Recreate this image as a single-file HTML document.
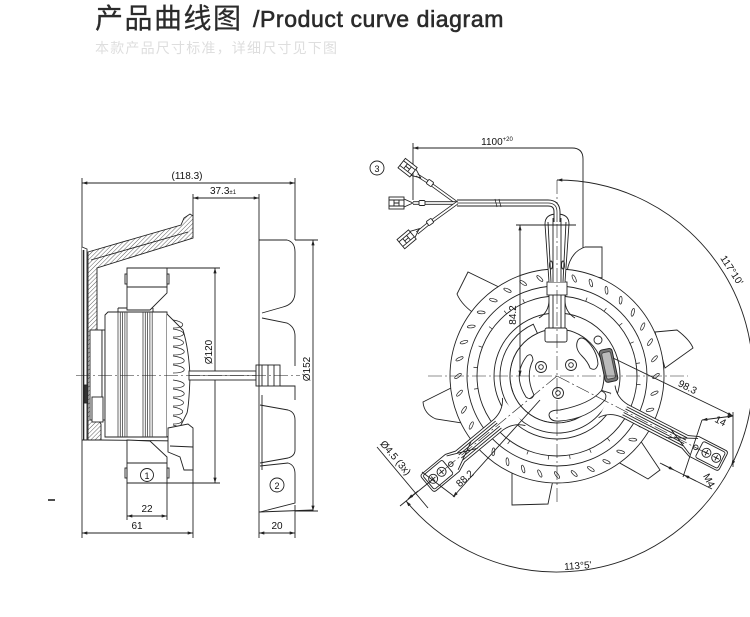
<!DOCTYPE html>
<html><head><meta charset="utf-8">
<style>
html,body{margin:0;padding:0;background:#fff;}
body{width:750px;height:617px;overflow:hidden;position:relative;}
svg{position:absolute;left:0;top:0;}
</style></head><body>
<svg width="750" height="617" viewBox="0 0 750 617" xmlns="http://www.w3.org/2000/svg">
<defs>
<marker id="a" viewBox="0 0 10 6" refX="10" refY="3" markerWidth="7" markerHeight="3.2" orient="auto-start-reverse" markerUnits="userSpaceOnUse">
<path d="M0,0 L10,3 L0,6 Z" fill="#222"/>
</marker>
<pattern id="h" width="3" height="3" patternUnits="userSpaceOnUse" patternTransform="rotate(45)">
<rect width="3" height="3" fill="#fff"/>
<line x1="0" y1="0" x2="0" y2="3" stroke="#333" stroke-width="0.8"/>
</pattern>
</defs>

<!-- Header -->
<text x="95" y="28" font-family="'Liberation Sans','Noto Sans CJK SC',sans-serif" font-size="28" font-weight="400" fill="#2b2b2b" stroke="#2b2b2b" stroke-width="0.25" letter-spacing="1.5">产品曲线图</text>
<text x="253" y="27" font-family="'Liberation Sans',sans-serif" font-size="23" fill="#2b2b2b" stroke="#2b2b2b" stroke-width="0.6" letter-spacing="0.6">/Product curve diagram</text>
<text x="95" y="53" font-family="'Liberation Sans','Noto Sans CJK SC',sans-serif" font-size="14" fill="#dedede" letter-spacing="1.2">本款产品尺寸标准，详细尺寸见下图</text>

<!-- ================= LEFT VIEW ================= -->
<g fill="none" stroke="#222" stroke-width="0.9">
  <line x1="82" y1="178" x2="82" y2="538"/>
  <line x1="295" y1="178" x2="295" y2="240"/>
  <line x1="193" y1="194" x2="193" y2="216"/>
  <line x1="259" y1="194" x2="259" y2="240"/>
  <line x1="193" y1="440" x2="193" y2="538"/>
  <line x1="127" y1="483" x2="127" y2="520"/>
  <line x1="167" y1="483" x2="167" y2="520"/>
  <line x1="259" y1="512" x2="259" y2="538"/>
  <line x1="295" y1="505" x2="295" y2="538"/>
  <line x1="167" y1="268" x2="220" y2="268"/>
  <line x1="167" y1="483" x2="220" y2="483"/>
  <line x1="295" y1="240" x2="318" y2="240"/>
  <line x1="295" y1="511" x2="318" y2="511"/>
  <line x1="82" y1="183" x2="295" y2="183" marker-start="url(#a)" marker-end="url(#a)"/>
  <line x1="193" y1="198" x2="259" y2="198" marker-start="url(#a)" marker-end="url(#a)"/>
  <line x1="215" y1="268" x2="215" y2="483" marker-start="url(#a)" marker-end="url(#a)"/>
  <line x1="313" y1="240" x2="313" y2="511" marker-start="url(#a)" marker-end="url(#a)"/>
  <line x1="127" y1="516" x2="167" y2="516" marker-start="url(#a)" marker-end="url(#a)"/>
  <line x1="82" y1="533" x2="193" y2="533" marker-start="url(#a)" marker-end="url(#a)"/>
  <line x1="259" y1="533" x2="295" y2="533" marker-start="url(#a)" marker-end="url(#a)"/>

  <path d="M82,247 L87,249 L87,440 L82,440" fill="#fff"/>
  <line x1="83.5" y1="250" x2="83.5" y2="440" stroke-width="1.6"/>
  <path d="M88,252 L181,225 L184,218 L190,214 L193,216 L193,238 L97,268 L97,418 L101,424 L101,440 L88,440 Z" fill="url(#h)"/>
  <line x1="91" y1="260" x2="188" y2="232"/>
  <rect x="84" y="385" width="4" height="18" fill="#333"/>
  <rect x="90" y="330" width="12" height="90" fill="#fff"/>
  <rect x="102" y="330" width="3" height="90" fill="#fff"/>
  <rect x="92" y="397" width="11" height="25" fill="#fff"/>
  <path d="M105,315 L108,312 L167,312 L167,437 L105,437 Z" fill="#fff"/>
  <line x1="118" y1="308" x2="153" y2="308"/>
  <line x1="118" y1="308" x2="118" y2="312"/><line x1="153" y1="308" x2="153" y2="312"/>
  <g stroke-width="0.8" stroke="#444">
  <line x1="118" y1="312" x2="118" y2="437"/><line x1="120.3" y1="312" x2="120.3" y2="437"/><line x1="122.6" y1="312" x2="122.6" y2="437"/><line x1="124.9" y1="312" x2="124.9" y2="437"/><line x1="127" y1="312" x2="127" y2="437"/>
  <line x1="143" y1="312" x2="143" y2="437"/><line x1="145.3" y1="312" x2="145.3" y2="437"/><line x1="147.6" y1="312" x2="147.6" y2="437"/><line x1="149.9" y1="312" x2="149.9" y2="437"/><line x1="152.2" y1="312" x2="152.2" y2="437"/>
  </g>
  <line x1="100" y1="440" x2="180" y2="441"/>
  <path d="M167,314 L183,330 Q189,350 190,377 Q189,405 187,413 L180,427 L167,437" fill="#fff"/>
  <g stroke-width="0.7">
  <path d="M173,320 C186,322 186,328 173,328"/><path d="M173,329 C187,331 187,337 173,337"/>
  <path d="M173,338 C187,340 187,346 173,346"/><path d="M173,347 C188,349 188,355 173,355"/>
  <path d="M173,356 C188,358 188,364 173,364"/><path d="M173,365 C188,367 188,373 173,373"/>
  <path d="M173,380 C188,382 188,388 173,388"/><path d="M173,389 C188,391 188,397 173,397"/>
  <path d="M173,398 C187,400 187,406 173,406"/><path d="M173,407 C186,409 186,415 173,415"/>
  <path d="M173,416 C185,418 185,424 173,424"/><path d="M173,425 C182,427 182,432 173,432"/>
  </g>
  <path d="M127,268 L167,268 L167,293 L150,310 L127,310 Z" fill="#fff"/>
  <line x1="127" y1="287" x2="167" y2="287"/>
  <rect x="125" y="274" width="2" height="10"/><rect x="167" y="274" width="2" height="10"/>
  <path d="M127,440 L150,441 L167,457 L167,483 L127,483 Z" fill="#fff"/>
  <line x1="127" y1="463" x2="167" y2="463"/>
  <rect x="125" y="468" width="2" height="10"/><rect x="167" y="468" width="2" height="10"/>
  <circle cx="147" cy="475" r="6.5"/>
  <path d="M168,428 L188,424 L193,428 L193,470 L184,470 L180,457 L168,452 Z" fill="#fff"/>
  <line x1="170" y1="446" x2="193" y2="447"/>
  <rect x="189" y="371" width="67" height="9" fill="#fff"/>
  <line x1="189" y1="375.5" x2="256" y2="375.5" stroke-width="0.5"/>
  <rect x="256" y="365" width="24" height="21" fill="#fff"/>
  <line x1="259" y1="365" x2="259" y2="386"/><line x1="262" y1="365" x2="262" y2="386"/>
  <line x1="268" y1="365" x2="268" y2="386"/><line x1="274" y1="365" x2="274" y2="386"/>
  <line x1="259" y1="240" x2="259" y2="512"/>
  <line x1="262" y1="395" x2="262" y2="470"/>
  <path d="M259,240 L287,240 Q295,242 295,252 L295,292 Q295,304 283,307 L262,313"/>
  <path d="M262,318 L287,323 Q295,327 295,336 L295,366"/>
  <path d="M280,386 L295,386 L295,400"/>
  <path d="M260,405 L288,410 Q295,412 295,420 L295,450 Q295,456 288,458 L260,463"/>
  <path d="M260,466 L288,463 Q295,465 295,474 L295,503 L260,512"/>
  <line x1="259" y1="512" x2="313" y2="510"/>
  <circle cx="277" cy="485" r="7"/>
  <line x1="76" y1="375.5" x2="300" y2="375.5" stroke-width="0.6" stroke-dasharray="14 3 2 3"/>
  <line x1="48" y1="500" x2="55" y2="500" stroke-width="1.6"/>
</g>
<g font-family="'Liberation Sans Narrow','Liberation Sans',sans-serif" font-size="10" fill="#111" text-anchor="middle">
  <text x="187" y="179">(118.3)</text>
  <text x="223" y="194">37.3<tspan font-size="6">±1</tspan></text>
  <text transform="translate(212,352) rotate(-90)">Ø120</text>
  <text transform="translate(310,369) rotate(-90)">Ø152</text>
  <text x="147" y="512">22</text>
  <text x="137" y="529">61</text>
  <text x="277" y="529">20</text>
  <text x="147" y="479" font-size="9">1</text>
  <text x="277" y="489" font-size="9">2</text>
</g>

<!-- ================= RIGHT VIEW ================= -->
<g fill="none" stroke="#222" stroke-width="0.9">
  <path d="M557,180 A196,196 0 0 1 731.3,465.6" marker-start="url(#a)" marker-end="url(#a)"/>
  <path d="M731.3,465.6 A196,196 0 0 1 406.2,501.2" marker-end="url(#a)"/>
  <path d="M413,148 L572,148 Q583,148 583,159 L583,330" marker-start="url(#a)" marker-end="url(#a)"/>
  <line x1="413" y1="143" x2="413" y2="200"/>

  <g fill="#fff">
    <path d="M505,290 L468,272 L457,294 Q462,306 478,316 Z"/>
    <path d="M455,386 L423,402 Q424,414 436,419 L468,424 Z"/>
    <path d="M512,465 L512,505 L548,504 Q550,494 553,480 Z"/>
    <path d="M612,450 L640,440 L660,470 L648,479 L618,462 Z"/>
    <path d="M655,332 L677,330 Q690,340 693,348 L665,368 Z"/>
    <path d="M567,272 Q570,252 585,247 L602,247 L602,278 Z"/>
  </g>

  <g transform="translate(557,376)">
    <circle r="107" fill="#fff"/>
    <circle r="90"/>
    <circle r="80"/>
    <g fill="#fff" stroke-width="0.7">
      <ellipse cx="0" cy="-99" rx="1.4" ry="4" transform="rotate(0) rotate(-35 0 -99)"/>
      <ellipse cx="0" cy="-99" rx="1.4" ry="4" transform="rotate(10) rotate(-35 0 -99)"/>
      <ellipse cx="0" cy="-99" rx="1.4" ry="4" transform="rotate(20) rotate(-35 0 -99)"/>
      <ellipse cx="0" cy="-99" rx="1.4" ry="4" transform="rotate(30) rotate(-35 0 -99)"/>
      <ellipse cx="0" cy="-99" rx="1.4" ry="4" transform="rotate(40) rotate(-35 0 -99)"/>
      <ellipse cx="0" cy="-99" rx="1.4" ry="4" transform="rotate(50) rotate(-35 0 -99)"/>
      <ellipse cx="0" cy="-99" rx="1.4" ry="4" transform="rotate(60) rotate(-35 0 -99)"/>
      <ellipse cx="0" cy="-99" rx="1.4" ry="4" transform="rotate(70) rotate(-35 0 -99)"/>
      <ellipse cx="0" cy="-99" rx="1.4" ry="4" transform="rotate(80) rotate(-35 0 -99)"/>
      <ellipse cx="0" cy="-99" rx="1.4" ry="4" transform="rotate(90) rotate(-35 0 -99)"/>
      <ellipse cx="0" cy="-99" rx="1.4" ry="4" transform="rotate(100) rotate(-35 0 -99)"/>
      <ellipse cx="0" cy="-99" rx="1.4" ry="4" transform="rotate(110) rotate(-35 0 -99)"/>
      <ellipse cx="0" cy="-99" rx="1.4" ry="4" transform="rotate(120) rotate(-35 0 -99)"/>
      <ellipse cx="0" cy="-99" rx="1.4" ry="4" transform="rotate(130) rotate(-35 0 -99)"/>
      <ellipse cx="0" cy="-99" rx="1.4" ry="4" transform="rotate(140) rotate(-35 0 -99)"/>
      <ellipse cx="0" cy="-99" rx="1.4" ry="4" transform="rotate(150) rotate(-35 0 -99)"/>
      <ellipse cx="0" cy="-99" rx="1.4" ry="4" transform="rotate(160) rotate(-35 0 -99)"/>
      <ellipse cx="0" cy="-99" rx="1.4" ry="4" transform="rotate(170) rotate(-35 0 -99)"/>
      <ellipse cx="0" cy="-99" rx="1.4" ry="4" transform="rotate(180) rotate(-35 0 -99)"/>
      <ellipse cx="0" cy="-99" rx="1.4" ry="4" transform="rotate(190) rotate(-35 0 -99)"/>
      <ellipse cx="0" cy="-99" rx="1.4" ry="4" transform="rotate(200) rotate(-35 0 -99)"/>
      <ellipse cx="0" cy="-99" rx="1.4" ry="4" transform="rotate(210) rotate(-35 0 -99)"/>
      <ellipse cx="0" cy="-99" rx="1.4" ry="4" transform="rotate(220) rotate(-35 0 -99)"/>
      <ellipse cx="0" cy="-99" rx="1.4" ry="4" transform="rotate(230) rotate(-35 0 -99)"/>
      <ellipse cx="0" cy="-99" rx="1.4" ry="4" transform="rotate(240) rotate(-35 0 -99)"/>
      <ellipse cx="0" cy="-99" rx="1.4" ry="4" transform="rotate(250) rotate(-35 0 -99)"/>
      <ellipse cx="0" cy="-99" rx="1.4" ry="4" transform="rotate(260) rotate(-35 0 -99)"/>
      <ellipse cx="0" cy="-99" rx="1.4" ry="4" transform="rotate(270) rotate(-35 0 -99)"/>
      <ellipse cx="0" cy="-99" rx="1.4" ry="4" transform="rotate(280) rotate(-35 0 -99)"/>
      <ellipse cx="0" cy="-99" rx="1.4" ry="4" transform="rotate(290) rotate(-35 0 -99)"/>
      <ellipse cx="0" cy="-99" rx="1.4" ry="4" transform="rotate(300) rotate(-35 0 -99)"/>
      <ellipse cx="0" cy="-99" rx="1.4" ry="4" transform="rotate(310) rotate(-35 0 -99)"/>
      <ellipse cx="0" cy="-99" rx="1.4" ry="4" transform="rotate(320) rotate(-35 0 -99)"/>
      <ellipse cx="0" cy="-99" rx="1.4" ry="4" transform="rotate(330) rotate(-35 0 -99)"/>
      <ellipse cx="0" cy="-99" rx="1.4" ry="4" transform="rotate(340) rotate(-35 0 -99)"/>
      <ellipse cx="0" cy="-99" rx="1.4" ry="4" transform="rotate(350) rotate(-35 0 -99)"/>
    </g>
    <g stroke-width="0.7">
      <line x1="0" y1="-80" x2="0" y2="-84" transform="rotate(6)"/>
      <line x1="0" y1="-80" x2="0" y2="-84" transform="rotate(21)"/>
      <line x1="0" y1="-80" x2="0" y2="-84" transform="rotate(36)"/>
      <line x1="0" y1="-80" x2="0" y2="-84" transform="rotate(51)"/>
      <line x1="0" y1="-80" x2="0" y2="-84" transform="rotate(66)"/>
      <line x1="0" y1="-80" x2="0" y2="-84" transform="rotate(81)"/>
      <line x1="0" y1="-80" x2="0" y2="-84" transform="rotate(96)"/>
      <line x1="0" y1="-80" x2="0" y2="-84" transform="rotate(141)"/>
      <line x1="0" y1="-80" x2="0" y2="-84" transform="rotate(156)"/>
      <line x1="0" y1="-80" x2="0" y2="-84" transform="rotate(171)"/>
      <line x1="0" y1="-80" x2="0" y2="-84" transform="rotate(186)"/>
      <line x1="0" y1="-80" x2="0" y2="-84" transform="rotate(201)"/>
      <line x1="0" y1="-80" x2="0" y2="-84" transform="rotate(216)"/>
      <line x1="0" y1="-80" x2="0" y2="-84" transform="rotate(261)"/>
      <line x1="0" y1="-80" x2="0" y2="-84" transform="rotate(276)"/>
      <line x1="0" y1="-80" x2="0" y2="-84" transform="rotate(291)"/>
      <line x1="0" y1="-80" x2="0" y2="-84" transform="rotate(306)"/>
      <line x1="0" y1="-80" x2="0" y2="-84" transform="rotate(321)"/>
      <line x1="0" y1="-80" x2="0" y2="-84" transform="rotate(336)"/>
    </g>
    <circle r="63" fill="#fff"/>
    <circle r="47"/>
  </g>
  <path d="M533.3,324.2 A57,57 0 1 0 611.3,393.4 L601.7,390.4 A47,47 0 1 1 537.4,333.3 Z" fill="#fff"/>
  <path d="M527,356 Q512,375 526,397 Q531,401 534,395 Q525,376 533,360 Q532,352 527,356 Z" fill="#fff"/>
  <path d="M578,340 Q574,348 582,356 Q588,362 590,368 Q596,372 598,364 Q597,350 586,340 Q581,336 578,340 Z" fill="#fff"/>
  <path d="M549,415 Q550,422 560,421 Q588,419 605,400 Q608,393 601,391 Q590,404 560,410 Q549,410 549,415 Z" fill="#fff"/>
  <circle cx="541" cy="367" r="5.5" fill="#fff"/><circle cx="541" cy="367" r="2.3"/>
  <circle cx="571" cy="365" r="5.5" fill="#fff"/><circle cx="571" cy="365" r="2.3"/>
  <circle cx="558" cy="393" r="5.5" fill="#fff"/><circle cx="558" cy="393" r="2.3"/>
  <circle cx="598" cy="340" r="4"/>
  <rect x="602" y="349" width="13" height="33" rx="3" fill="#777" transform="rotate(-12 608 365)"/>
  <rect x="604" y="352" width="9" height="27" rx="2" fill="#bbb" stroke="#444" transform="rotate(-12 608 365)"/>

  <path d="M539,318 Q549,312 549,300 L549,295 M575,318 Q565,312 565,300 L565,295"/>
  <rect x="549" y="295" width="16" height="33" fill="#fff" stroke="none"/>
  <line x1="549" y1="295" x2="549" y2="328"/><line x1="565" y1="295" x2="565" y2="328"/>
  <line x1="553" y1="295" x2="553" y2="328"/><line x1="561" y1="295" x2="561" y2="328"/>
  <rect x="545" y="328" width="22" height="14" rx="2" fill="#fff"/>
  <rect x="547" y="282" width="20" height="13" fill="#fff"/>
  <path d="M549,282 L545,224 Q545,214 557,214 Q569,214 569,224 L565,282" fill="#fff"/>
  <path d="M551,282 L548,222 M563,282 L566,222 M553,282 L553,218 M561,282 L561,218"/>
  <ellipse cx="551" cy="265" rx="1.5" ry="4"/><ellipse cx="563" cy="265" rx="1.5" ry="4"/>

  <g transform="translate(557,376) rotate(140.3)">
    <path d="M56,-18 Q63,-8 76,-7 L126,-7 L136,-11 L166,-11 Q169,-11 169,-8 L169,8 Q169,11 166,11 L136,11 L126,7 L76,7 Q63,8 56,18" fill="#fff"/>
    <path d="M76,-4.5 L126,-4.5 M76,4.5 L126,4.5 M76,-2 L126,-2 M76,2 L126,2 M107,-5 L136,9 M107,5 L136,-9"/>
    <rect x="142" y="-9" width="25" height="18" rx="2"/>
    <circle cx="138" cy="0" r="2.3"/>
    <circle cx="150" cy="0" r="4.5"/><circle cx="161" cy="0" r="4.5"/>
    <path d="M147,0 L153,0 M150,-3 L150,3 M158,0 L164,0 M161,-3 L161,3"/>
  </g>
  <g transform="translate(557,376) rotate(27.2)">
    <path d="M56,-18 Q63,-8 76,-7 L144,-7 L154,-11 L184,-11 Q187,-11 187,-8 L187,8 Q187,11 184,11 L154,11 L144,7 L76,7 Q63,8 56,18" fill="#fff"/>
    <path d="M76,-4.5 L144,-4.5 M76,4.5 L144,4.5 M76,-2 L144,-2 M76,2 L144,2 M125,-5 L154,9 M125,5 L154,-9"/>
    <rect x="160" y="-9" width="25" height="18" rx="2"/>
    <circle cx="156" cy="0" r="2.3"/>
    <circle cx="168" cy="0" r="4.5"/><circle cx="179" cy="0" r="4.5"/>
    <path d="M165,0 L171,0 M168,-3 L168,3 M176,0 L182,0 M179,-3 L179,3"/>
  </g>

  <g stroke-width="0.6" stroke-dasharray="14 3 2 3">
    <line x1="428" y1="376" x2="688" y2="376"/>
    <line x1="557" y1="180" x2="557" y2="505"/>
    <line x1="557" y1="376" x2="440" y2="473"/>
    <line x1="557" y1="376" x2="708" y2="454"/>
  </g>

  <path d="M557,222 L557,212 Q557,203 548,203 L457,203" stroke-width="7"/>
  <path d="M557,222 L557,212 Q557,203 548,203 L457,203" stroke="#fff" stroke-width="5"/>
  <path d="M557,222 L557,212 Q557,203 548,203 L457,203" stroke-width="0.7"/>
  <path d="M495,199 L497,207 M499,199 L501,207" stroke-width="0.7"/>
  <g>
    <path d="M457,203 L428,182 L417,175" stroke-width="3.4"/>
    <path d="M457,203 L428,182 L417,175" stroke="#fff" stroke-width="1.8"/>
    <path d="M457,203 L413,203" stroke-width="3.4"/>
    <path d="M457,203 L413,203" stroke="#fff" stroke-width="1.8"/>
    <path d="M457,203 L428,224 L417,233" stroke-width="3.4"/>
    <path d="M457,203 L428,224 L417,233" stroke="#fff" stroke-width="1.8"/>
  </g>
  <rect x="-3" y="-2.5" width="6" height="5" rx="1" fill="#fff" transform="translate(430,183) rotate(36)"/>
  <rect x="-3" y="-2.5" width="6" height="5" rx="1" fill="#fff" transform="translate(422,203)"/>
  <rect x="-3" y="-2.5" width="6" height="5" rx="1" fill="#fff" transform="translate(430,222) rotate(-36)"/>
  <g transform="translate(408,168) rotate(38)">
    <path d="M7,-4 L16,0 L7,4"/>
    <rect x="-8" y="-6" width="15" height="12" fill="#fff"/>
    <path d="M-8,-3 L7,-3 M-8,3 L7,3 M-3,-3 L-3,3 M2,-3 L2,3 M-3,0 L2,0"/>
  </g>
  <g transform="translate(397,203)">
    <path d="M7,-4 L16,0 L7,4"/>
    <rect x="-8" y="-6" width="15" height="12" fill="#fff"/>
    <path d="M-8,-3 L7,-3 M-8,3 L7,3 M-3,-3 L-3,3 M2,-3 L2,3 M-3,0 L2,0"/>
  </g>
  <g transform="translate(407,239) rotate(-40)">
    <path d="M7,-4 L16,0 L7,4"/>
    <rect x="-8" y="-6" width="15" height="12" fill="#fff"/>
    <path d="M-8,-3 L7,-3 M-8,3 L7,3 M-3,-3 L-3,3 M2,-3 L2,3 M-3,0 L2,0"/>
  </g>
  <circle cx="377" cy="168" r="7"/>

  <line x1="516" y1="225" x2="576" y2="225"/>
  <line x1="520" y1="225" x2="520" y2="376" marker-start="url(#a)" marker-end="url(#a)"/>
  <line x1="613" y1="358" x2="733" y2="416" marker-end="url(#a)"/>
  <line x1="702" y1="420" x2="683" y2="477"/>
  <line x1="733" y1="412" x2="733" y2="467"/>
  <line x1="702" y1="420" x2="733" y2="416" marker-start="url(#a)" marker-end="url(#a)"/>
  <line x1="660" y1="463" x2="712" y2="489"/>
  <line x1="662" y1="464" x2="674" y2="470" marker-end="url(#a)"/>
  <line x1="696" y1="481" x2="684" y2="475" marker-end="url(#a)"/>
  <line x1="422" y1="472" x2="455" y2="497"/>
  <line x1="453" y1="497" x2="540" y2="400" marker-start="url(#a)"/>
  <line x1="377" y1="447" x2="428" y2="508"/>
  <line x1="400" y1="506" x2="432" y2="480"/>
  <line x1="408" y1="499" x2="418" y2="491" marker-start="url(#a)"/>
</g>
<g font-family="'Liberation Sans Narrow','Liberation Sans',sans-serif" font-size="10" fill="#111" text-anchor="middle">
  <text x="497" y="145">1100<tspan font-size="6" dy="-4">+20</tspan></text>
  <text x="377" y="172" font-size="9">3</text>
  <text transform="translate(516,315) rotate(-90)">84.2</text>
  <text transform="translate(686,390) rotate(27)">98.3</text>
  <text transform="translate(719,424) rotate(27)">14</text>
  <text transform="translate(706,482) rotate(63)">M4</text>
  <text transform="translate(467,481) rotate(-42)">88.2</text>
  <text transform="translate(393,460) rotate(50)">Ø4.5 (3x)</text>
  <text transform="translate(729,272) rotate(57)">117°10'</text>
  <text transform="translate(578,569) rotate(-4)">113°5'</text>
</g>
</svg>
</body></html>
